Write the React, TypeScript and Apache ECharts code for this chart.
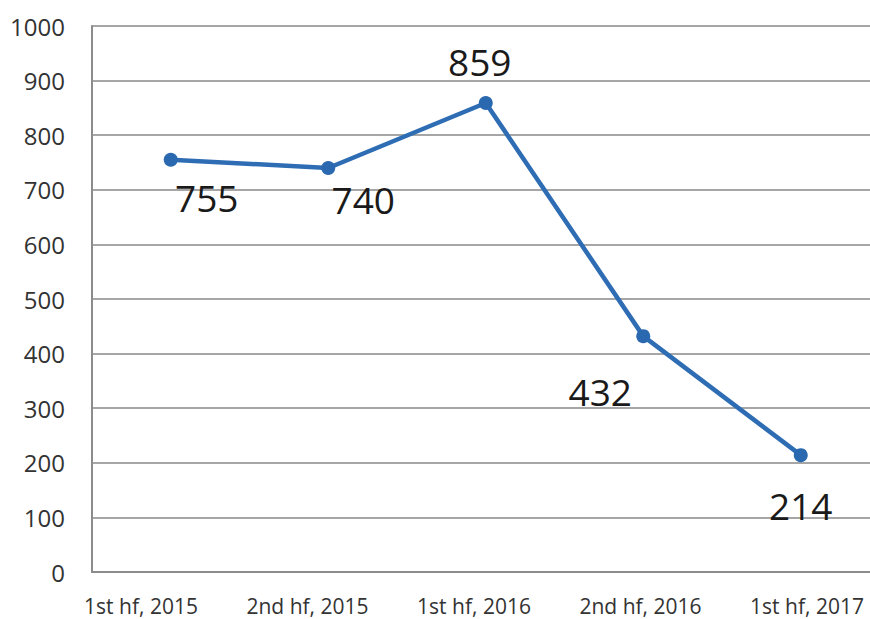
import React, { useEffect, useRef } from "react";
import * as echarts from "echarts";

const categories = ["1st hf, 2015", "2nd hf, 2015", "1st hf, 2016", "2nd hf, 2016", "1st hf, 2017"];
const values = [755, 740, 859, 432, 214];
const labelOffsets: [number, number][] = [[36, 38], [35, 32], [-6, -41], [-43, 55], [0, 50]];
const yTicks = { min: 0, max: 1000, interval: 100 };

export default function App() {
  const ref = useRef<HTMLDivElement>(null);
  useEffect(() => {
    if (!ref.current) return;
    const chart = echarts.init(ref.current, null, { renderer: "svg" });
    const font = "'Open Sans', sans-serif";
    chart.setOption({
      animation: false,
      backgroundColor: "#ffffff",
      grid: [
        { left: 92, top: 26, bottom: 47, right: 12.5, containLabel: false },
        { left: 57.75, top: 26, bottom: 47, right: 1.75, containLabel: false },
      ],
      xAxis: [
        {
          type: "category",
          gridIndex: 0,
          data: categories,
          boundaryGap: true,
          axisLine: { show: true, lineStyle: { color: "#8c8c8c", width: 2 } },
          axisTick: { show: false },
          axisLabel: { show: false },
        },
        {
          type: "category",
          gridIndex: 1,
          data: categories,
          boundaryGap: true,
          axisLine: { show: false },
          axisTick: { show: false },
          axisLabel: { show: true, color: "#333333", fontSize: 21, fontFamily: font, margin: 23 },
        },
      ],
      yAxis: [
        {
          type: "value",
          gridIndex: 0,
          min: yTicks.min,
          max: yTicks.max,
          interval: yTicks.interval,
          axisLine: { show: true, lineStyle: { color: "#8c8c8c", width: 2 } },
          axisTick: { show: false },
          axisLabel: {
            color: "#333333",
            fontSize: 24,
            fontFamily: font,
            margin: 27,
            formatter: (v: number) => String(v),
          },
          splitLine: { show: true, lineStyle: { color: "#a6a6a6", width: 2 } },
        },
        {
          type: "value",
          gridIndex: 1,
          min: yTicks.min,
          max: yTicks.max,
          show: false,
          splitLine: { show: false },
        },
      ],
      series: [
        {
          type: "line",
          xAxisIndex: 0,
          yAxisIndex: 0,
          data: values.map((v, i) => ({
            value: v,
            label: { offset: labelOffsets[i] },
          })),
          symbol: "circle",
          symbolSize: 14,
          lineStyle: { color: "#2e6db4", width: 4.5 },
          itemStyle: { color: "#2a69b0" },
          label: {
            show: true,
            position: "inside",
            align: "center",
            verticalAlign: "middle",
            color: "#1a1a1a",
            fontSize: 37,
            fontFamily: font,
          },
        },
      ],
    });
    return () => chart.dispose();
  }, []);
  return (
    <div style={{ width: 870, height: 619, position: "absolute", left: 0, top: 0, overflow: "hidden", background: "#fff" }}>
      <div ref={ref} style={{ width: 892, height: 619, position: "absolute", left: 0, top: 0 }} />
    </div>
  );
}
